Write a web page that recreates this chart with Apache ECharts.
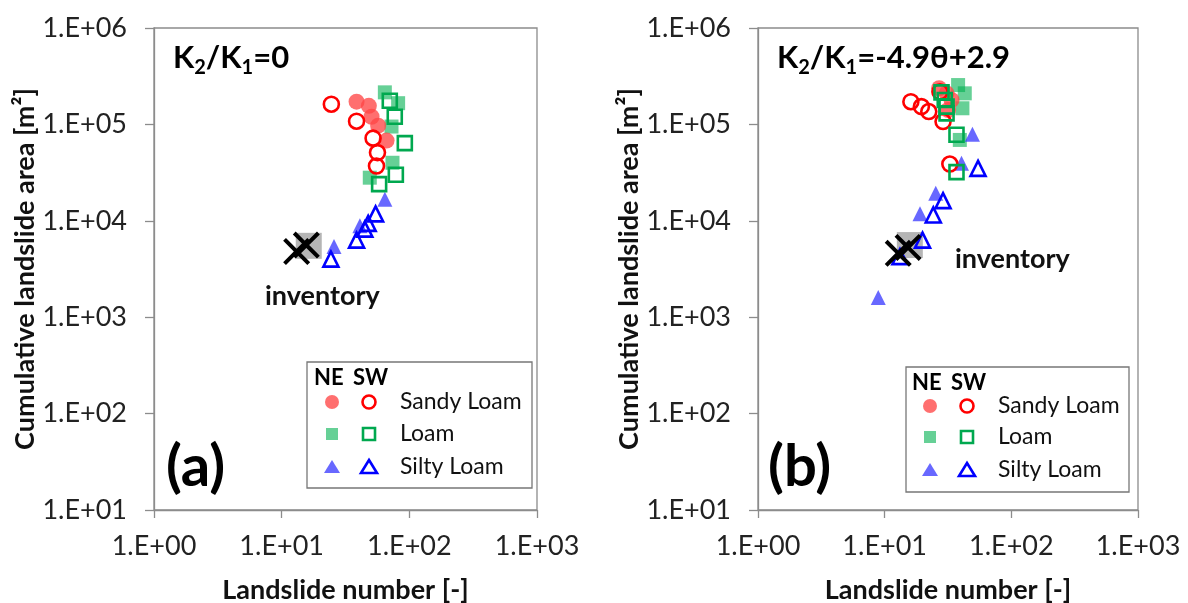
<!DOCTYPE html>
<html>
<head>
<meta charset="utf-8">
<script src="https://cdn.jsdelivr.net/npm/echarts@6/dist/echarts.min.js"></script>
<style>
html,body{margin:0;padding:0;background:#fff;}
#chart{width:1188px;height:603px;}
</style>
</head>
<body>
<div id="chart"></div>
<script>
// ---- tick labels ----
const xTickLabels = ['1.E+00', '1.E+01', '1.E+02', '1.E+03'];
const yTickLabels = ['1.E+01', '1.E+02', '1.E+03', '1.E+04', '1.E+05', '1.E+06'];

// ---- panel (a): K2/K1 = 0 ----  [landslide number, cumulative area m2]
const aNESandy = [[38.6, 1.72e5], [48.2, 1.56e5], [50.6, 1.2e5], [57, 9.7e4], [66.3, 6.8e4]];
const aSWSandy = [[24.5, 1.62e5], [38.6, 1.08e5], [52, 7.2e4], [56.3, 5.1e4], [55.3, 3.7e4]];
const aNELoam = [[64.3, 2.15e5], [81.7, 1.66e5], [72.5, 9.5e4], [73.8, 4.0e4], [49, 2.8e4]];
const aSWLoam = [[70.3, 1.76e5], [76.9, 1.2e5], [92.2, 6.4e4], [78.4, 3.0e4], [58, 2.4e4]];
const aNESilty = [[64.3, 1.67e4], [41, 8.9e3], [25.7, 5.4e3]];
const aSWSilty = [[54.4, 1.18e4], [47.6, 9.4e3], [44.8, 8.2e3], [38.6, 6.3e3], [24.3, 4.0e3]];
const aInvNE = [[16.3, 5.5e3]];
const aInvSW = [[13.1, 4.8e3], [15.6, 5.6e3]];

// ---- panel (b): K2/K1 = -4.9θ+2.9 ----
const bNESandy = [[26.9, 2.37e5], [30.8, 2.1e5], [33.7, 1.79e5], [31.7, 1.41e5]];
const bSWSandy = [[16.1, 1.72e5], [19.5, 1.53e5], [22.3, 1.36e5], [28.9, 1.07e5], [27.3, 2.18e5], [32.7, 3.88e4]];
const bNELoam = [[38, 2.56e5], [42.9, 2.1e5], [41.1, 1.47e5], [39.2, 6.9e4]];
const bSWLoam = [[28.1, 2.15e5], [29.8, 1.79e5], [30.8, 1.53e5], [30.8, 1.3e5], [36.9, 7.8e4], [36.9, 3.2e4]];
const bNESilty = [[49.3, 7.9e4], [40.4, 3.95e4], [25.3, 1.93e4], [19, 1.18e4], [8.9, 1.6e3]];
const bSWSilty = [[54.6, 3.5e4], [28.9, 1.62e4], [24.2, 1.15e4], [19.9, 6.3e3], [13.2, 4.25e3]];
const bInvNE = [[15.8, 5.6e3]];
const bInvSW = [[12.8, 4.6e3], [15.3, 5.3e3]];

// ---- legend entries ----
const legendNames = ['Sandy Loam', 'Loam', 'Silty Loam'];

const FONT = 'Lato';
const C = {
  neSandy: 'rgba(255,70,70,0.78)', swSandy: '#ff0000',
  neLoam: 'rgba(0,176,80,0.6)', swLoam: '#00a84f',
  neSilty: 'rgba(40,40,255,0.7)', swSilty: '#0000ff',
  gray: 'rgba(120,120,120,0.55)', axis: '#8c8c8c'
};
const XPATH = 'path://M0,2.1 L2.1,0 L10,7.9 L17.9,0 L20,2.1 L12.1,10 L20,17.9 L17.9,20 L10,12.1 L2.1,20 L0,17.9 L7.9,10 Z';

function xAxis(idx) {
  return {
    type: 'log', logBase: 10, gridIndex: idx, min: 1, max: 1000,
    name: 'Landslide number [-]', nameLocation: 'middle', nameGap: 67,
    nameTextStyle: { fontFamily: FONT, fontWeight: 'bold', fontSize: 27, color: '#111' },
    axisLine: { show: true, lineStyle: { color: C.axis, width: 1.3 } },
    axisTick: { show: true, inside: false, length: 8, lineStyle: { color: C.axis, width: 1.3 } },
    minorTick: { show: false }, splitLine: { show: false },
    axisLabel: { margin: 23, fontFamily: FONT, fontSize: 27, color: '#222',
      formatter: v => xTickLabels[Math.round(Math.log10(v))] }
  };
}
function yAxis(idx) {
  return {
    type: 'log', logBase: 10, gridIndex: idx, min: 10, max: 1e6,
    name: 'Cumulative landslide area [m²]', nameLocation: 'middle', nameGap: 114,
    nameTextStyle: { fontFamily: FONT, fontWeight: 'bold', fontSize: 27, color: '#111' },
    axisLine: { show: true, lineStyle: { color: C.axis, width: 1.3 } },
    axisTick: { show: true, inside: false, length: 9, lineStyle: { color: C.axis, width: 1.3 } },
    minorTick: { show: false }, splitLine: { show: false },
    axisLabel: { margin: 27, fontFamily: FONT, fontSize: 27, color: '#222',
      formatter: v => yTickLabels[Math.round(Math.log10(v)) - 1] }
  };
}
function sc(idx, data, symbol, size, fill, border, bw, z) {
  return {
    type: 'scatter', xAxisIndex: idx, yAxisIndex: idx, data: data,
    symbol: symbol, symbolSize: size, z: z, silent: true,
    itemStyle: { color: fill, borderColor: border, borderWidth: bw, opacity: 1 }
  };
}
function panelSeries(idx, d) {
  return [
    sc(idx, d.invNE, 'rect', 26, C.gray, 'none', 0, 2),
    sc(idx, d.neLoam, 'rect', 14, C.neLoam, 'none', 0, 3),
    sc(idx, d.neSandy, 'circle', 16, C.neSandy, 'none', 0, 3),
    sc(idx, d.neSilty, 'triangle', 15, C.neSilty, 'none', 0, 3),
    sc(idx, d.swSandy, 'circle', 15, 'rgba(0,0,0,0)', C.swSandy, 2.6, 4),
    sc(idx, d.swLoam, 'rect', 14, 'rgba(0,0,0,0)', C.swLoam, 2.6, 4),
    sc(idx, d.swSilty, 'triangle', 15, 'rgba(0,0,0,0)', C.swSilty, 2.6, 4),
    sc(idx, d.invSW, XPATH, 27, '#000', 'none', 0, 5)
  ];
}

// legend drawn as graphic
function legend(x0, y0, w, h, cols, rows, textX) {
  const els = [];
  els.push({ type: 'rect', shape: { x: x0, y: y0, width: w, height: h },
    style: { fill: '#fff', stroke: '#777', lineWidth: 1.3 }, z: 10 });
  els.push({ type: 'text', x: cols[0] - 18, y: y0 + 16, z: 11,
    style: { text: 'NE', font: 'bold 22px ' + FONT, fill: '#000', verticalAlign: 'middle' } });
  els.push({ type: 'text', x: cols[1] - 16, y: y0 + 16, z: 11,
    style: { text: 'SW', font: 'bold 22px ' + FONT, fill: '#000', verticalAlign: 'middle' } });
  const mk = [
    [{ type: 'circle', shape: { cx: cols[0], cy: rows[0], r: 7 }, style: { fill: C.neSandy } },
     { type: 'circle', shape: { cx: cols[1], cy: rows[0], r: 6.5 }, style: { fill: 'none', stroke: C.swSandy, lineWidth: 2.6 } }],
    [{ type: 'rect', shape: { x: cols[0] - 6, y: rows[1] - 6, width: 12, height: 12 }, style: { fill: C.neLoam } },
     { type: 'rect', shape: { x: cols[1] - 6, y: rows[1] - 6, width: 12, height: 12 }, style: { fill: 'none', stroke: C.swLoam, lineWidth: 2.6 } }],
    [{ type: 'polygon', shape: { points: [[cols[0], rows[2] - 7], [cols[0] + 8, rows[2] + 6], [cols[0] - 8, rows[2] + 6]] }, style: { fill: C.neSilty } },
     { type: 'polygon', shape: { points: [[cols[1], rows[2] - 7], [cols[1] + 8, rows[2] + 6], [cols[1] - 8, rows[2] + 6]] }, style: { fill: 'none', stroke: C.swSilty, lineWidth: 2.6 } }]
  ];
  mk.forEach((pair, i) => {
    pair.forEach(e => { e.z = 11; els.push(e); });
    els.push({ type: 'text', x: textX, y: rows[i], z: 11,
      style: { text: legendNames[i], font: '23px ' + FONT, fill: '#111', verticalAlign: 'middle' } });
  });
  return els;
}
function kText(x, y, tail) {
  return { type: 'text', x: x, y: y, z: 11,
    style: {
      text: '{b|K}{s|2}{b|/K}{s|1}{b|' + tail + '}',
      verticalAlign: 'middle',
      rich: {
        b: { fontFamily: FONT, fontWeight: 'bold', fontSize: 31, fill: '#000', color: '#000' },
        s: { fontFamily: FONT, fontWeight: 'bold', fontSize: 20, fill: '#000', color: '#000', padding: [20, 0, 0, 0] }
      }
    } };
}

const option = {
  animation: false,
  backgroundColor: '#fff',
  grid: [
    { left: 154, top: 28, width: 383, height: 482, show: true, borderColor: C.axis, borderWidth: 1.3,
      backgroundColor: 'transparent', containLabel: false, outerBoundsMode: 'none' },
    { left: 758, top: 28, width: 380, height: 482, show: true, borderColor: C.axis, borderWidth: 1.3,
      backgroundColor: 'transparent', containLabel: false, outerBoundsMode: 'none' }
  ],
  xAxis: [xAxis(0), xAxis(1)],
  yAxis: [yAxis(0), yAxis(1)],
  series: [].concat(
    panelSeries(0, { neSandy: aNESandy, swSandy: aSWSandy, neLoam: aNELoam, swLoam: aSWLoam,
      neSilty: aNESilty, swSilty: aSWSilty, invNE: aInvNE, invSW: aInvSW }),
    panelSeries(1, { neSandy: bNESandy, swSandy: bSWSandy, neLoam: bNELoam, swLoam: bSWLoam,
      neSilty: bNESilty, swSilty: bSWSilty, invNE: bInvNE, invSW: bInvSW })
  ),
  graphic: [].concat(
    legend(307, 362, 225, 126, [332, 369], [402, 434, 467], 400),
    legend(906, 367, 223, 125, [930, 967], [406, 437, 470], 998),
    [
      kText(173, 58, '=0'),
      kText(777, 58, '=-4.9θ+2.9'),
      { type: 'text', x: 166, y: 467, z: 11, style: { text: '(a)', font: 'bold 58px ' + FONT, fill: '#000', verticalAlign: 'middle' } },
      { type: 'text', x: 768, y: 467, z: 11, style: { text: '(b)', font: 'bold 58px ' + FONT, fill: '#000', verticalAlign: 'middle' } },
      { type: 'text', x: 265, y: 296, z: 11, style: { text: 'inventory', font: 'bold 27px ' + FONT, fill: '#111', verticalAlign: 'middle' } },
      { type: 'text', x: 955, y: 259, z: 11, style: { text: 'inventory', font: 'bold 27px ' + FONT, fill: '#111', verticalAlign: 'middle' } }
    ]
  )
};
const chart = echarts.init(document.getElementById('chart'), null, { renderer: 'canvas' });
chart.setOption(option);
</script>
</body>
</html>
